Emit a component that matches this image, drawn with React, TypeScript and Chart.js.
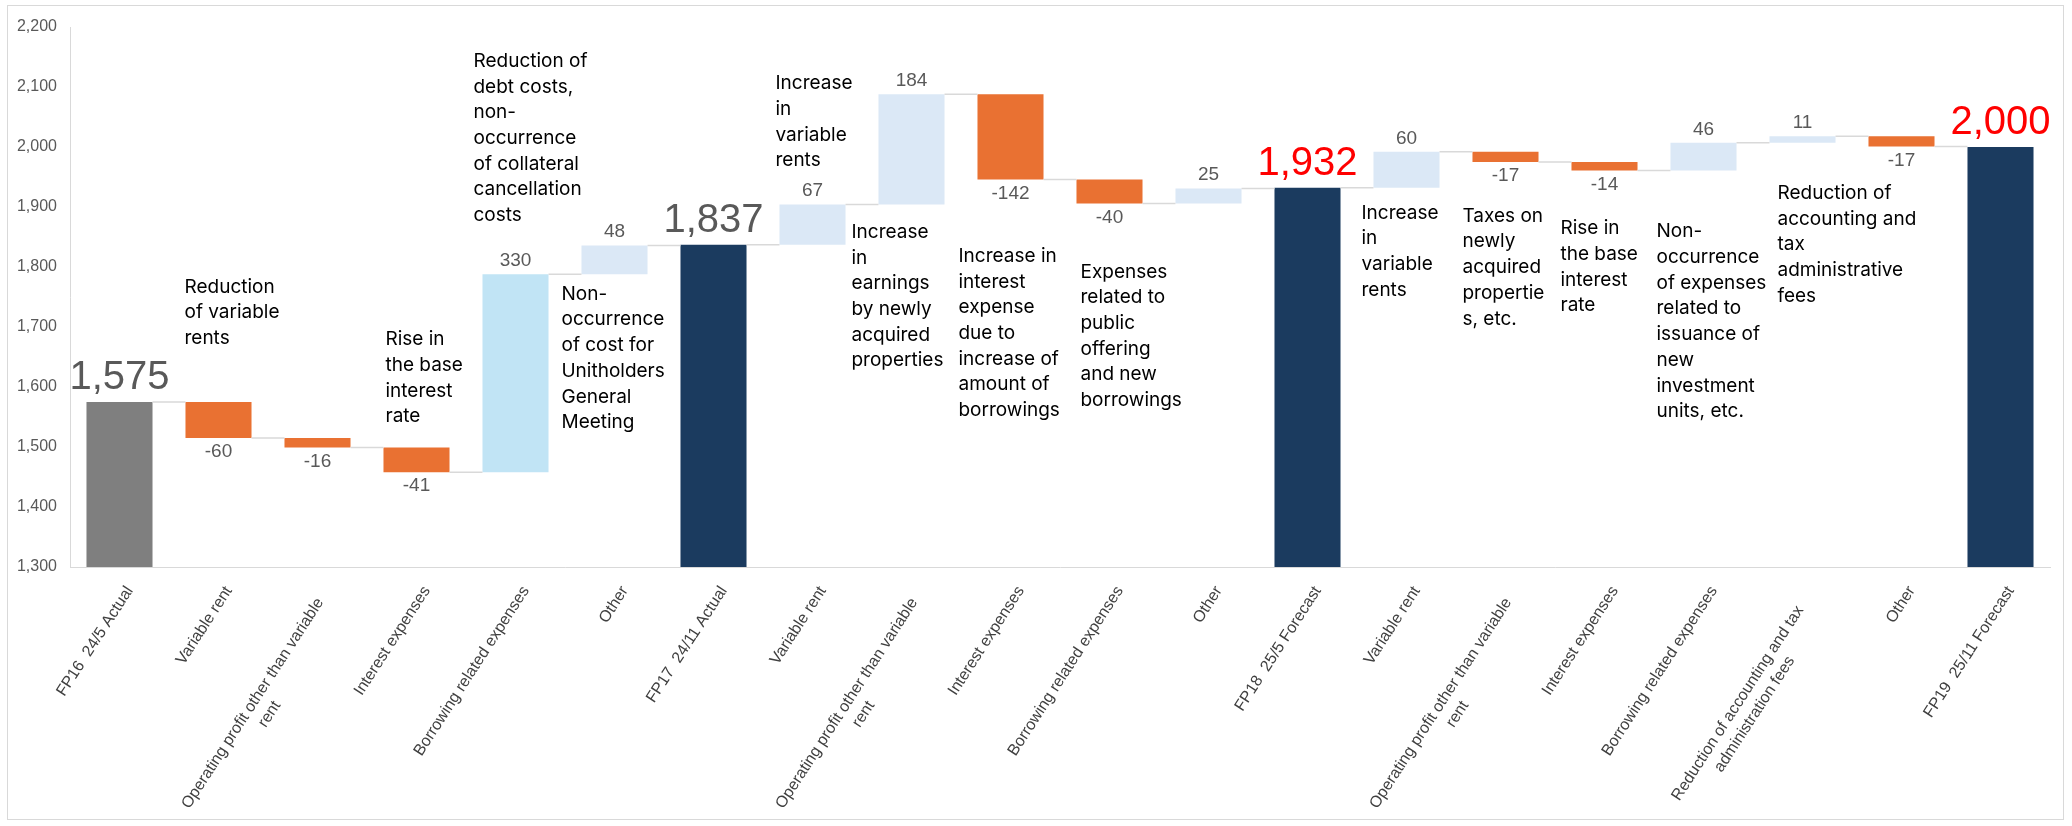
import React, { useEffect, useRef } from "react";
import { Chart, registerables } from "chart.js";

Chart.register(...registerables);

// ---------------- data ----------------
const categories: string[][] = [
  ["FP16  24/5 Actual"],
  ["Variable rent"],
  ["Operating profit other than variable", "rent"],
  ["Interest expenses"],
  ["Borrowing related expenses"],
  ["Other"],
  ["FP17  24/11 Actual"],
  ["Variable rent"],
  ["Operating profit other than variable", "rent"],
  ["Interest expenses"],
  ["Borrowing related expenses"],
  ["Other"],
  ["FP18  25/5 Forecast"],
  ["Variable rent"],
  ["Operating profit other than variable", "rent"],
  ["Interest expenses"],
  ["Borrowing related expenses"],
  ["Reduction of accounting and tax", "administration fees"],
  ["Other"],
  ["FP19  25/11 Forecast"],
];

const values: number[] = [
  1575, -60, -16, -41, 330, 48, 1837, 67, 184, -142, -40, 25, 1932, 60, -17, -14, 46, 11, -17, 2000,
];

// start = first actual total, actual / forecast = later totals, up / upStrong / down = changes
const kinds: string[] = [
  "start", "down", "down", "down", "upStrong", "up",
  "actual", "up", "up", "down", "down", "up",
  "forecast", "up", "down", "down", "up", "up", "down",
  "forecast",
];

const yMin = 1300;
const yMax = 2200;
const yStep = 100;

const noteIndex: number[] = [1, 3, 4, 5, 7, 8, 9, 10, 13, 14, 15, 16, 17];
const noteLines: string[][] = [
  ["Reduction", "of variable", "rents"],
  ["Rise in", "the base", "interest", "rate"],
  ["Reduction of", "debt costs,", "non-", "occurrence", "of collateral", "cancellation", "costs"],
  ["Non-", "occurrence", "of cost for", "Unitholders", "General", "Meeting"],
  ["Increase", "in", "variable", "rents"],
  ["Increase", "in", "earnings", "by newly", "acquired", "properties"],
  ["Increase in", "interest", "expense", "due to", "increase of", "amount of", "borrowings"],
  ["Expenses", "related to", "public", "offering", "and new", "borrowings"],
  ["Increase", "in", "variable", "rents"],
  ["Taxes on", "newly", "acquired", "propertie", "s, etc."],
  ["Rise in", "the base", "interest", "rate"],
  ["Non-", "occurrence", "of expenses", "related to", "issuance of", "new", "investment", "units, etc."],
  ["Reduction of", "accounting and", "tax", "administrative", "fees"],
];

// ---------------- layout / style ----------------
// first-line anchor of each note: y on the value axis, x offset (px) from the bar's left edge
const NOTE_LAYOUT: { yAt: number; dx: number }[] = [
  { yAt: 1767, dx: -1 },
  { yAt: 1679, dx: 2 },
  { yAt: 2143, dx: -9 },
  { yAt: 1755, dx: -20 },
  { yAt: 2106, dx: -4 },
  { yAt: 1858, dx: -27 },
  { yAt: 1818, dx: -19 },
  { yAt: 1792, dx: 4 },
  { yAt: 1890, dx: -12 },
  { yAt: 1885, dx: -10 },
  { yAt: 1864, dx: -11 },
  { yAt: 1859, dx: -14 },
  { yAt: 1923, dx: 8 },
];

const COLORS: Record<string, string> = {
  start: "#7f7f7f",
  actual: "#1b3b5f",
  forecast: "#1b3b5f",
  up: "#dbe8f6",
  upStrong: "#c1e4f5",
  down: "#e97132",
};
const TOTAL_LABEL_COLORS: Record<string, string> = {
  start: "#595959",
  actual: "#595959",
  forecast: "#ff0000",
};
const isTotal = (k: string) => k === "start" || k === "actual" || k === "forecast";

const GRID_GRAY = "#d9d9d9";
const LABEL_GRAY = "#595959";
const SANS = '"Liberation Sans", Arial, sans-serif';
const NOTE_FONT = '19px Inter, "Noto Sans", sans-serif';
const NOTE_LINE_H = 25.7;
const X_FONT = '16px "Liberation Sans", Arial, sans-serif';
const X_ROT = 57;
const X_DX = 10.3;
const X_DY = 21;
const X_WRAP_W = 275;
const X_LINE_H = 20;

function buildRanges(): [number, number][] {
  let running = 0;
  return values.map((v, i) => {
    if (isTotal(kinds[i])) {
      running = v;
      return [yMin, v] as [number, number];
    }
    const r: [number, number] = [running, running + v];
    running += v;
    return r;
  });
}

const fmt = (v: number) => v.toLocaleString("en-US");

export default function App() {
  const ref = useRef<HTMLCanvasElement | null>(null);

  useEffect(() => {
    const canvas = ref.current;
    if (!canvas) return;
    const ranges = buildRanges();

    const waterfallPlugin = {
      id: "waterfallExtras",
      beforeDraw(chart: any) {
        const ctx = chart.ctx;
        ctx.save();
        ctx.fillStyle = "#ffffff";
        ctx.fillRect(0, 0, chart.width, chart.height);
        ctx.restore();
      },
      afterDatasetsDraw(chart: any) {
        const ctx = chart.ctx;
        const ys = chart.scales.y;
        const meta = chart.getDatasetMeta(0);
        ctx.save();
        // connectors
        ctx.strokeStyle = GRID_GRAY;
        ctx.lineWidth = 1.5;
        for (let i = 0; i < ranges.length - 1; i++) {
          const a = meta.data[i];
          const b = meta.data[i + 1];
          const level = ranges[i][1];
          const y = ys.getPixelForValue(level);
          ctx.beginPath();
          ctx.moveTo(a.x + a.width / 2, y);
          ctx.lineTo(b.x - b.width / 2, y);
          ctx.stroke();
        }
        // value labels
        ctx.textAlign = "center";
        ranges.forEach((r, i) => {
          const el = meta.data[i];
          const k = kinds[i];
          const hi = Math.max(r[0], r[1]);
          const lo = Math.min(r[0], r[1]);
          if (isTotal(k)) {
            ctx.font = "40px " + SANS;
            ctx.fillStyle = TOTAL_LABEL_COLORS[k];
            ctx.textBaseline = "alphabetic";
            ctx.fillText(fmt(values[i]), el.x, ys.getPixelForValue(hi) - 13);
          } else {
            ctx.font = "19px " + SANS;
            ctx.fillStyle = LABEL_GRAY;
            ctx.textBaseline = "middle";
            if (values[i] >= 0) {
              ctx.fillText(fmt(values[i]), el.x, ys.getPixelForValue(hi) - 13.5);
            } else {
              ctx.fillText(fmt(values[i]), el.x, ys.getPixelForValue(lo) + 14);
            }
          }
        });
        ctx.restore();
      },
      afterDraw(chart: any) {
        const ctx = chart.ctx;
        const xs = chart.scales.x;
        const ys = chart.scales.y;
        const meta = chart.getDatasetMeta(0);
        ctx.save();
        // category labels
        ctx.font = X_FONT;
        ctx.fillStyle = "#404040";
        ctx.textBaseline = "middle";
        categories.forEach((lines, i) => {
          const px = xs.getPixelForTick(i);
          ctx.save();
          ctx.translate(px + X_DX, xs.top + X_DY);
          ctx.rotate((-X_ROT * Math.PI) / 180);
          if (lines.length === 1) {
            ctx.textAlign = "right";
            ctx.fillText(lines[0], 0, 0);
          } else {
            ctx.textAlign = "center";
            lines.forEach((l, j) => ctx.fillText(l, -X_WRAP_W / 2, j * X_LINE_H));
          }
          ctx.restore();
        });
        // notes
        ctx.font = NOTE_FONT;
        ctx.fillStyle = "#000000";
        ctx.textAlign = "left";
        ctx.textBaseline = "middle";
        noteIndex.forEach((idx, n) => {
          const el = meta.data[idx];
          const lay = NOTE_LAYOUT[n];
          const x0 = el.x - el.width / 2 + lay.dx;
          const y0 = ys.getPixelForValue(lay.yAt);
          noteLines[n].forEach((line, j) => ctx.fillText(line, x0, y0 + j * NOTE_LINE_H));
        });
        // outer frame
        ctx.strokeStyle = GRID_GRAY;
        ctx.lineWidth = 1;
        ctx.strokeRect(7.5, 5.5, 2056, 814);
        ctx.restore();
      },
    };

    const chart = new Chart(canvas, {
      type: "bar",
      data: {
        labels: categories,
        datasets: [
          {
            data: ranges as any,
            backgroundColor: kinds.map((k) => COLORS[k]),
            borderWidth: 0,
            categoryPercentage: 1,
            barPercentage: 0.667,
          },
        ],
      },
      options: {
        animation: false,
        responsive: false,
        devicePixelRatio: 1,
        layout: { padding: { top: 27, right: 22, left: 0, bottom: 0 } },
        plugins: { legend: { display: false }, tooltip: { enabled: false } },
        scales: {
          x: {
            grid: { display: false, drawTicks: false },
            border: { display: true, color: GRID_GRAY, width: 1 },
            ticks: { display: false },
            afterFit: (s: any) => {
              s.height = 259;
            },
          },
          y: {
            min: yMin,
            max: yMax,
            grid: { display: false, drawTicks: false },
            border: { display: true, color: GRID_GRAY, width: 1 },
            ticks: {
              stepSize: yStep,
              padding: 13,
              color: LABEL_GRAY,
              font: { family: SANS, size: 16 },
              callback: (v: any) => fmt(Number(v)),
            },
            afterFit: (s: any) => {
              s.width = 70;
            },
          },
        },
      },
      plugins: [waterfallPlugin],
    });
    return () => chart.destroy();
  }, []);

  return (
    <div style={{ position: "absolute", left: 0, top: 0, width: 2072, height: 826 }}>
      <canvas ref={ref} width={2072} height={826} style={{ display: "block", width: 2072, height: 826 }} />
    </div>
  );
}
